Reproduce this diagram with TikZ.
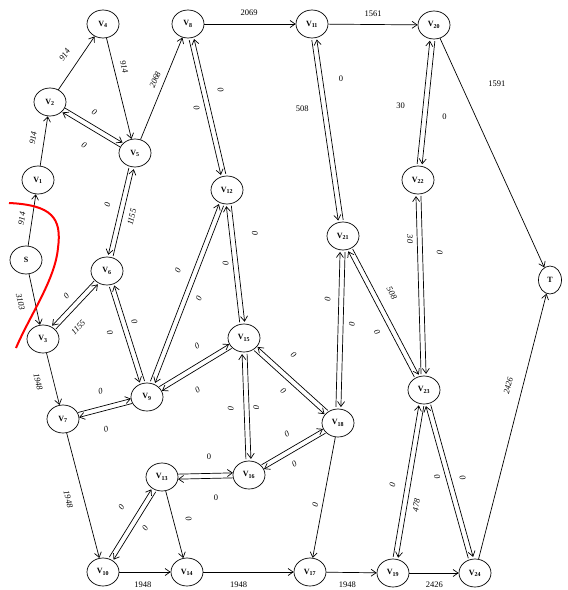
\documentclass[tikz,border=0pt]{standalone}
\usepackage{fontspec}
\setmainfont{Liberation Serif}
\usepackage{tikz}
\usetikzlibrary{arrows.meta,calc,shapes.geometric}
\newcommand{\vx}[1]{\textbf{V}\textsubscript{\textbf{#1}}}

\begin{document}
\begin{tikzpicture}[x=1pt, y=-1pt, line width=0.7pt,
      vtx/.style={draw, ellipse, minimum width=32pt, minimum height=28pt,
                  inner sep=0pt, font=\fontsize{8}{9}\selectfont},
      arr/.style={-{Straight Barb[length=5pt,width=7pt]}},
      lbl/.style={font=\fontsize{8.5}{10}\selectfont\itshape, sloped, inner sep=1pt},
      hlb/.style={font=\fontsize{8.5}{10}\selectfont, inner sep=1pt},
      ab/.style={above=#1}, ab/.default=6pt,
      bl/.style={below=#1}, bl/.default=6pt,
      dl/.style={arr, shorten <=16pt, shorten >=16pt,
                 to path={($(\tikztostart)!2.5pt!90:(\tikztotarget)$) --
                          ($(\tikztotarget)!2.5pt!-90:(\tikztostart)$) \tikztonodes}},
      dr/.style={arr, shorten <=16pt, shorten >=16pt,
                 to path={($(\tikztostart)!2.5pt!-90:(\tikztotarget)$) --
                          ($(\tikztotarget)!2.5pt!90:(\tikztostart)$) \tikztonodes}}
  ]
    \useasboundingbox (0,0) rectangle (568,590);
    % vertices
    \node[vtx] (s) at (26,260) {\textbf{S}};
    \node[vtx] (v1) at (38,180) {\vx{1}};
    \node[vtx] (v2) at (50,102) {\vx{2}};
    \node[vtx] (v3) at (43,339) {\vx{3}};
    \node[vtx] (v4) at (103,24) {\vx{4}};
    \node[vtx] (v5) at (135,153) {\vx{5}};
    \node[vtx] (v6) at (107,271) {\vx{6}};
    \node[vtx] (v7) at (63,419) {\vx{7}};
    \node[vtx] (v8) at (188,24) {\vx{8}};
    \node[vtx] (v9) at (147,397) {\vx{9}};
    \node[vtx] (v10) at (103,572) {\vx{10}};
    \node[vtx] (v11) at (312,24) {\vx{11}};
    \node[vtx] (v12) at (227,190) {\vx{12}};
    \node[vtx] (v13) at (162,477) {\vx{13}};
    \node[vtx] (v14) at (187,572) {\vx{14}};
    \node[vtx] (v15) at (244,338) {\vx{15}};
    \node[vtx] (v16) at (249,475) {\vx{16}};
    \node[vtx] (v17) at (310,572) {\vx{17}};
    \node[vtx] (v18) at (338,423) {\vx{18}};
    \node[vtx] (v19) at (393,573) {\vx{19}};
    \node[vtx] (v20) at (434,25) {\vx{20}};
    \node[vtx] (v21) at (343,236) {\vx{21}};
    \node[vtx] (v22) at (418,180) {\vx{22}};
    \node[vtx] (v23) at (424,390) {\vx{23}};
    \node[vtx] (v24) at (475,573) {\vx{24}};
    \node[vtx, minimum width=23pt] (t) at (550,280) {\textbf{T}};

    % one-way edges
    \draw[arr] (s) -- node[lbl, pos=.5, ab] {914} (v1);
    \draw[arr] (s) -- node[lbl, pos=.49, bl=10pt] {3103} (v3);
    \draw[arr] (v1) -- node[lbl, pos=.53, ab=7pt] {914} (v2);
    \draw[arr] (v2) -- node[lbl, pos=.5, ab=10pt] {914} (v4);
    \draw[arr] (v4) -- node[lbl, pos=.31, ab] {914} (v5);
    \draw[arr] (v5) -- node[lbl, pos=.55, ab=5pt] {2068} (v8);
    \draw[arr] (v8) -- node[hlb, pos=.49, above=7pt] {2069} (v11);
    \draw[arr] (v11) -- node[hlb, pos=.5, above=7pt] {1561} (v20);
    \draw[arr] (v20) -- node[hlb, pos=.2, right=26pt] {1591} (t);
    \draw[arr] (v3) -- node[lbl, pos=.49, bl=11pt] {1948} (v7);
    \draw[arr] (v7) -- node[lbl, pos=.5, bl=11pt] {1948} (v10);
    \draw[arr] (v10) -- node[hlb, pos=.46, below=8.5pt] {1948} (v14);
    \draw[arr] (v14) -- node[hlb, pos=.39, below=8.5pt] {1948} (v17);
    \draw[arr] (v17) -- node[hlb, pos=.42, below=8.5pt] {1948} (v19);
    \draw[arr] (v19) -- node[hlb, pos=.51, below=8pt] {2426} (v24);
    \draw[arr] (v24) -- node[lbl, pos=.64, ab=10pt] {2426} (t);
    \draw[arr] (v13) -- node[lbl, pos=.47, ab=11pt] {0} (v14);
    \draw[arr] (v18) -- node[lbl, pos=.57, ab=3pt] {0} (v17);

    % two-way edges
    \draw[dl] (v2) to node[lbl, pos=.44, ab=7pt] {0} (v5);
    \draw[dl] (v5) to node[lbl, pos=.48, bl=13pt] {0} (v2);
    \draw[dr] (v5) to node[lbl, pos=.47, ab=8pt] {0} (v6);
    \draw[dr] (v6) to node[lbl, pos=.48, bl=5pt] {1155} (v5);
    \draw[dr] (v6) to node[lbl, pos=.49, ab=6pt] {0} (v3);
    \draw[dr] (v3) to node[lbl, pos=.35, bl=11pt] {1155} (v6);
    \draw[dr] (v6) to node[lbl, pos=.45, bl=9pt] {0} (v9);
    \draw[dr] (v9) to node[lbl, pos=.57, ab=4pt] {0} (v6);
    \draw[dl] (v7) to node[lbl, pos=.5, ab=11pt] {0} (v9);
    \draw[dl] (v9) to node[lbl, pos=.55, bl=14pt] {0} (v7);
    \draw[dl] (v9) to node[lbl, pos=.58, ab=10pt] {0} (v12);
    \draw[dl] (v12) to node[lbl, pos=.5, bl=6pt] {0} (v9);
    \draw[dr] (v8) to node[lbl, pos=.49, bl=4pt] {0} (v12);
    \draw[dr] (v12) to node[lbl, pos=.58, ab=10pt] {0} (v8);
    \draw[dl] (v12) to node[lbl, pos=.31, ab=16pt] {0} (v15);
    \draw[dl] (v15) to node[lbl, pos=.51, bl=3pt] {0} (v12);
    \draw[dl] (v9) to node[lbl, pos=.61, ab=11pt] {0} (v15);
    \draw[dl] (v15) to node[lbl, pos=.59, bl=14pt] {0} (v9);
    \draw[dr] (v18) to node[lbl, pos=.62, ab=14pt] {0} (v15);
    \draw[dr] (v15) to node[lbl, pos=.51, bl=6pt] {0} (v18);
    \draw[dl] (v16) to node[lbl, pos=.49, bl=9pt] {0} (v15);
    \draw[dl] (v15) to node[lbl, pos=.51, ab=3pt] {0} (v16);
    \draw[dl] (v13) to node[hlb, pos=.54, above=12pt] {0} (v16);
    \draw[dl] (v16) to node[hlb, pos=.38, below=15pt] {0} (v13);
    \draw[dl] (v16) to node[lbl, pos=.52, ab=10pt] {0} (v18);
    \draw[dl] (v18) to node[lbl, pos=.57, bl=7pt] {0} (v16);
    \draw[dl] (v10) to node[lbl, pos=.58, ab=12pt] {0} (v13);
    \draw[dl] (v13) to node[lbl, pos=.47, bl=6pt] {0} (v10);
    \draw[dr] (v11) to node[hlb, pos=.4, left=12pt] {508} (v21);
    \draw[dr] (v21) to node[hlb, pos=.74, right=15pt] {0} (v11);
    \draw[dl] (v18) to node[lbl, pos=.66, ab=7pt] {0} (v21);
    \draw[dl] (v21) to node[lbl, pos=.47, bl=4.5pt] {0} (v18);
    \draw[dl] (v22) to node[hlb, pos=.48, left=17pt] {30} (v20);
    \draw[dl] (v20) to node[hlb, pos=.59, right=14pt] {0} (v22);
    \draw[dl] (v23) to node[lbl, pos=.72, bl=3pt] {30} (v22);
    \draw[dl] (v22) to node[lbl, pos=.35, ab=13pt] {0} (v23);
    \draw[dl] (v21) to node[lbl, pos=.42, ab=10pt] {508} (v23);
    \draw[dl] (v23) to node[lbl, pos=.42, bl=8pt] {0} (v21);
    \draw[dl] (v19) to node[lbl, pos=.47, ab=8.5pt] {0} (v23);
    \draw[dl] (v23) to node[lbl, pos=.62, bl=5pt] {478} (v19);
    \draw[dl] (v24) to node[lbl, pos=.54, bl=4pt] {0} (v23);
    \draw[dl] (v23) to node[lbl, pos=.5, ab=7pt] {0} (v24);

    % cut line
    \draw[red, line width=2pt] (9,203) .. controls (52,205) and (62,218) .. (58,248)
      .. controls (55,280) and (30,315) .. (16,348);
  \end{tikzpicture}
\end{document}
